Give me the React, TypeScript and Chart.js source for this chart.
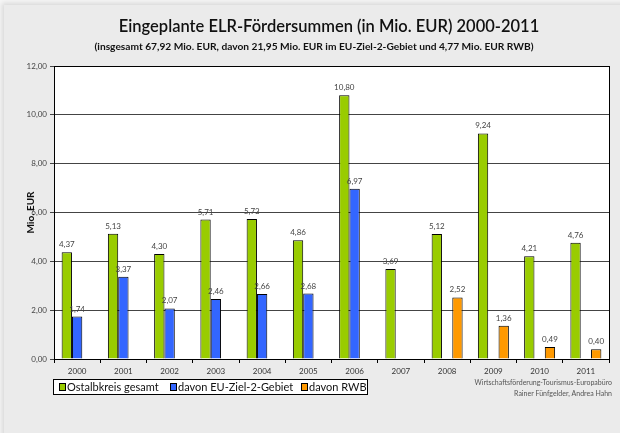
import React, { useEffect, useRef } from "react";
import { Chart, registerables } from "chart.js";

Chart.register(...registerables);

const years = ["2000", "2001", "2002", "2003", "2004", "2005", "2006", "2007", "2008", "2009", "2010", "2011"];
const ostalb = [4.37, 5.13, 4.3, 5.71, 5.73, 4.86, 10.8, 3.69, 5.12, 9.24, 4.21, 4.76];
const ziel2 = [1.74, 3.37, 2.07, 2.46, 2.66, 2.68, 6.97, null, null, null, null, null];
const rwb = [null, null, null, null, null, null, null, null, 2.52, 1.36, 0.49, 0.4];
const seriesNames = ["Ostalbkreis gesamt", "davon EU-Ziel-2-Gebiet", "davon RWB"];
const seriesColors = ["#99cc00", "#3366ff", "#ff9900"];
const titleText = "Eingeplante ELR-Fördersummen (in Mio. EUR) 2000-2011";
const subtitleText = "(insgesamt 67,92 Mio. EUR, davon 21,95 Mio. EUR im EU-Ziel-2-Gebiet und 4,77 Mio. EUR RWB)";
const yTitle = "Mio. EUR";
const credits = ["Wirtschaftsförderung-Tourismus-Europabüro", "Rainer Fünfgelder, Andrea Hahn"];

const FONT = "Lato, 'DejaVu Sans', sans-serif";
const fmt = (v: number) => v.toFixed(2).replace(".", ",");

const decorPlugin = {
  id: "decor",
  beforeDraw(chart: any) {
    const { ctx, chartArea } = chart;
    ctx.save();
    ctx.fillStyle = "#ffffff";
    ctx.fillRect(chartArea.left, chartArea.top, chartArea.right - chartArea.left, chartArea.bottom - chartArea.top);
    ctx.restore();
  },
  afterDatasetsDraw(chart: any) {
    const { ctx } = chart;
    ctx.save();
    ctx.font = `8px ${FONT}`;
    ctx.fillStyle = "#444";
    ctx.textAlign = "center";
    ctx.textBaseline = "alphabetic";
    chart.data.datasets.forEach((ds: any, i: number) => {
      const meta = chart.getDatasetMeta(i);
      meta.data.forEach((bar: any, j: number) => {
        const v = ds.data[j];
        if (v === null || v === undefined) return;
        ctx.fillText(fmt(v), bar.x, bar.y - 5);
      });
    });
    ctx.restore();
  },
  afterDraw(chart: any) {
    const { ctx, chartArea } = chart;
    ctx.save();
    ctx.strokeStyle = "#000";
    ctx.lineWidth = 1;
    ctx.strokeRect(Math.round(chartArea.left) + 0.5, Math.round(chartArea.top) + 0.5,
      Math.round(chartArea.right - chartArea.left), Math.round(chartArea.bottom - chartArea.top));
    ctx.fillStyle = "#111";
    ctx.textAlign = "center";
    ctx.textBaseline = "middle";
    ctx.font = `600 16.5px ${FONT}`;
    ctx.fillText(titleText, 329, 27);
    ctx.font = `bold 10.2px ${FONT}`;
    ctx.fillText(subtitleText, 314, 47);
    ctx.save();
    ctx.translate(31, (chartArea.top + chartArea.bottom) / 2);
    ctx.rotate(-Math.PI / 2);
    ctx.font = `bold 10px ${FONT}`;
    ctx.fillText(yTitle, 0, 0);
    ctx.restore();
    ctx.fillStyle = "#fff";
    ctx.fillRect(53.5, 379.5, 314, 15);
    ctx.strokeStyle = "#000";
    ctx.strokeRect(53.5, 379.5, 314, 15);
    const lx = [59, 170, 301];
    ctx.font = `11px ${FONT}`;
    ctx.textAlign = "left";
    ctx.textBaseline = "middle";
    seriesNames.forEach((name, i) => {
      ctx.fillStyle = seriesColors[i];
      ctx.fillRect(lx[i] + 0.5, 383.5, 6, 7);
      ctx.strokeStyle = "#000";
      ctx.strokeRect(lx[i] + 0.5, 383.5, 6, 7);
      ctx.fillStyle = "#111";
      ctx.fillText(name, lx[i] + 8, 387.5);
    });
    ctx.font = `7px ${FONT}`;
    ctx.fillStyle = "#555";
    ctx.textAlign = "right";
    ctx.fillText(credits[0], 612, 383);
    ctx.fillText(credits[1], 612, 394);
    ctx.restore();
  },
};

export default function App() {
  const ref = useRef<HTMLCanvasElement>(null);
  useEffect(() => {
    if (!ref.current) return;
    const data = [ostalb, ziel2, rwb];
    const chart = new Chart(ref.current, {
      type: "bar",
      data: {
        labels: years,
        datasets: seriesNames.map((name, i) => ({
          label: name,
          data: data[i] as any,
          backgroundColor: seriesColors[i],
          borderColor: "#000",
          borderWidth: 1,
          categoryPercentage: 0.67,
          barPercentage: 1,
        })),
      },
      options: {
        responsive: false,
        animation: false,
        devicePixelRatio: 1,
        layout: { padding: { top: 66, right: 11, bottom: 54, left: 0 } },
        plugins: { legend: { display: false }, title: { display: false }, tooltip: { enabled: false } },
        scales: {
          x: {
            grid: { offset: true, drawOnChartArea: false, tickLength: 4, color: "#000" },
            border: { color: "#000" },
            ticks: { font: { size: 8, family: FONT }, color: "#333", padding: 4 },
            afterFit: (s: any) => { s.height = 20; },
          },
          y: {
            min: 0,
            max: 12,
            ticks: { stepSize: 2, font: { size: 8, family: FONT }, color: "#444", padding: 3, callback: (v: any) => fmt(Number(v)) },
            grid: { color: "#444", tickLength: 4 },
            border: { color: "#000" },
            afterFit: (s: any) => { s.width = 54; },
          },
        },
      },
      plugins: [decorPlugin],
    });
    return () => chart.destroy();
  }, []);
  return (
    <div style={{ position: "absolute", left: 0, top: 0, width: 620, height: 433, background: "#f6f6f6", overflow: "hidden" }}>
      <div style={{ position: "absolute", left: 4, top: 5, width: 630, height: 440, background: "#ebebeb", boxShadow: "-2px -2px 5px rgba(0,0,0,0.12)" }} />
      <canvas ref={ref} width={620} height={433} style={{ position: "absolute", left: 0, top: 0 }} />
    </div>
  );
}
